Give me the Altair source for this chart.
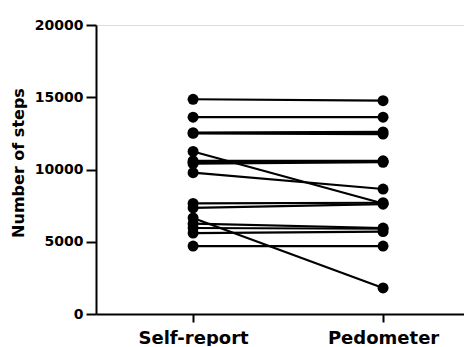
import altair as alt
import pandas as pd

categories = ["Self-report", "Pedometer"]
self_report = [14860, 13620, 12550, 12500, 11250, 10600, 10500, 10400, 9780, 7650, 7350, 6650, 6250, 5950, 5600, 4700]
pedometer   = [14760, 13620, 12600, 12450, 7650, 10600, 10550, 10500, 8650, 7700, 7600, 1800, 5950, 5900, 5700, 4700]

rows = []
for i, (a, b) in enumerate(zip(self_report, pedometer)):
    rows.append({"subject": i, "group": categories[0], "pos": 0, "steps": a})
    rows.append({"subject": i, "group": categories[1], "pos": 1, "steps": b})
df = pd.DataFrame(rows)

FONT = "DejaVu Sans"

x_enc = alt.X("pos:Q",
              scale=alt.Scale(domain=[-0.511, 1.426], nice=False, zero=False),
              axis=alt.Axis(values=[0, 1], title=None,
                            labelExpr="datum.value == 0 ? 'Self-report' : 'Pedometer'",
                            labelFontSize=18, labelFontWeight="bold", labelFont=FONT,
                            labelColor="black", tickColor="black", domainColor="black",
                            tickWidth=2, domainWidth=2, tickSize=8, labelPadding=7,
                            grid=False))
y_enc = alt.Y("steps:Q",
              scale=alt.Scale(domain=[0, 20000], nice=False),
              axis=alt.Axis(values=[0, 5000, 10000, 15000, 20000], title="Number of steps",
                            format="d",
                            labelFontSize=14, labelFontWeight="bold", labelFont=FONT,
                            titleFontSize=16, titleFontWeight="bold", titleFont=FONT,
                            labelColor="black", titleColor="black", tickColor="black",
                            domainColor="black", tickWidth=2, domainWidth=2, tickSize=10,
                            labelPadding=3, titlePadding=8, titleY=137.5, grid=False))

lines = alt.Chart(df).mark_line(color="black", strokeWidth=2.2, clip=False).encode(
    x=x_enc, y=y_enc, detail="subject:N", order="pos:Q")
points = alt.Chart(df).mark_circle(color="black", opacity=1, size=120, clip=False).encode(
    x="pos:Q", y="steps:Q")

chart = (lines + points).properties(
    width=368, height=289,
    autosize=alt.AutoSizeParams(type="none"),
    padding={"left": 88, "top": 17, "right": 0, "bottom": 32},
).configure_view(stroke=None).configure(background="white")

chart.save("out.html", embed_options={"renderer": "svg", "actions": False})
